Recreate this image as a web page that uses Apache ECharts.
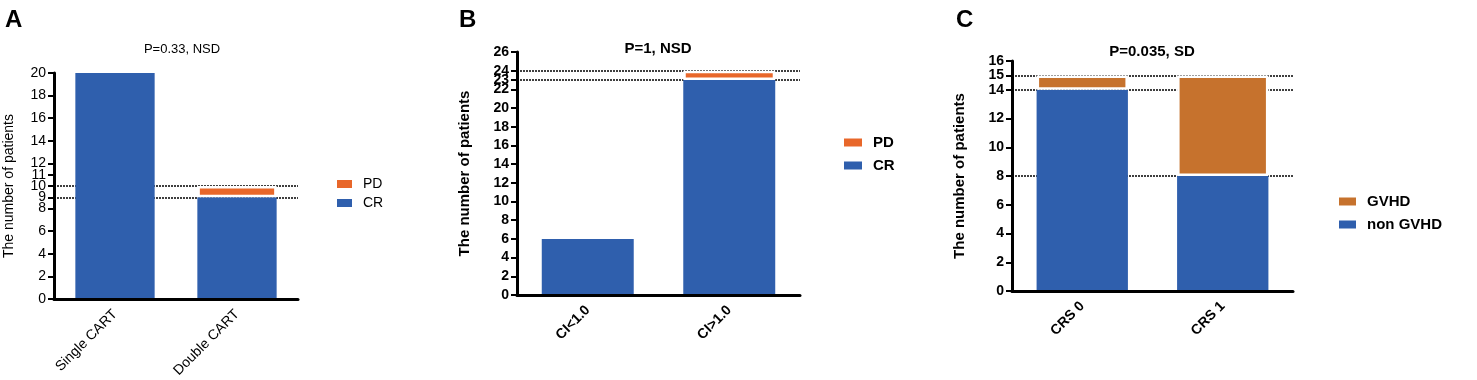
<!DOCTYPE html>
<html>
<head>
<meta charset="utf-8">
<script src="https://cdn.jsdelivr.net/npm/echarts@6/dist/echarts.min.js"></script>
<style>
  html, body { margin: 0; padding: 0; background: #fff; }
  #chart { width: 1477px; height: 380px; }
</style>
</head>
<body>
<div id="chart"></div>
<script>
// 数据
const catsA = ['Single CART', 'Double CART'];
const crA = [20, 9];
const pdA = [null, 1];
const ticksA = [0, 2, 4, 6, 8, 9, 10, 11, 12, 14, 16, 18, 20];
const refA = [9, 10];

const catsB = ['CI<1.0', 'CI>1.0'];
const crB = [6, 23];
const pdB = [null, 1];
const ticksB = [0, 2, 4, 6, 8, 10, 12, 14, 16, 18, 20, 22, 23, 24, 26];
const refB = [23, 24];

const catsC = ['CRS 0', 'CRS 1'];
const nonGvhdC = [14, 8];
const gvhdC = [1, 7];
const ticksC = [0, 2, 4, 6, 8, 10, 12, 14, 15, 16];
const refC = [8, 14, 15];

const FONT = 'Liberation Sans, Arial, sans-serif';
const BLUE = '#2f5fad';
const ORANGE = '#e8672a';
const BROWN = '#c6722d';

const chart = echarts.init(document.getElementById('chart'));

// 生成坐标轴
function xAxisFor(idx, cats, bold, size) {
    return {
        type: 'category', gridIndex: idx, data: cats, z: 10,
        axisLine: { lineStyle: { color: '#000', width: 3 } },
        axisTick: { alignWithLabel: true, length: 6, lineStyle: { color: '#000', width: 3 } },
        axisLabel: {
            rotate: 45, margin: 13, color: '#000', fontFamily: FONT,
            fontSize: size, fontWeight: bold ? 'bold' : 'normal'
        }
    };
}
function yAxisFor(idx, max, ticks, bold, gap, nameSize) {
    return {
        type: 'value', gridIndex: idx, min: 0, max: max, z: 10,
        name: 'The number of patients', nameLocation: 'middle', nameGap: gap,
        nameTextStyle: { color: '#000', fontFamily: FONT, fontSize: nameSize, fontWeight: bold ? 'bold' : 'normal' },
        splitLine: { show: false },
        axisLine: { show: true, lineStyle: { color: '#000', width: 3 } },
        axisTick: { show: true, customValues: ticks, length: 6, lineStyle: { color: '#000', width: 2 } },
        axisLabel: {
            customValues: ticks, margin: 8, color: '#000', fontFamily: FONT,
            fontSize: 14, fontWeight: bold ? 'bold' : 'normal'
        }
    };
}
// 下层柱不加边框，上层柱加白边形成间隔
function barSeries(name, idx, data, color, stack, border) {
    return {
        name: name, type: 'bar', stack: stack, xAxisIndex: idx, yAxisIndex: idx,
        data: data, barWidth: border ? '67%' : '65%', z: border ? 4 : 3,
        itemStyle: { color: color, borderColor: '#fff', borderWidth: border ? 2.5 : 0 }
    };
}
// 虚线参考线
function refSeries(idx, refs) {
    return {
        type: 'line', xAxisIndex: idx, yAxisIndex: idx, data: [], z: 1, silent: true,
        markLine: {
            silent: true, symbol: 'none', z: 1, animation: false,
            label: { show: false },
            lineStyle: { color: '#000', type: [2, 1], width: 1.5 },
            data: refs.map(v => ({ yAxis: v }))
        }
    };
}
function legendFor(left, top, names, bold, size, gap, w) {
    return {
        orient: 'vertical', left: left, top: top, data: names, padding: 0,
        icon: 'rect', itemWidth: w, itemHeight: 8, itemGap: gap,
        itemStyle: { borderWidth: 0 },
        textStyle: { color: '#000', fontFamily: FONT, fontSize: size, fontWeight: bold ? 'bold' : 'normal', padding: [0, 0, 0, 6] }
    };
}

const option = {
    animation: false,
    textStyle: { fontFamily: FONT },
    grid: [
        { left: 54, top: 73, width: 244, height: 227 },
        { left: 517, top: 52, width: 283, height: 243 },
        { left: 1012, top: 61, width: 281, height: 230 }
    ],
    xAxis: [xAxisFor(0, catsA, false, 14), xAxisFor(1, catsB, true, 14), xAxisFor(2, catsC, true, 14)],
    yAxis: [
        yAxisFor(0, 20, ticksA, false, 38, 14),
        yAxisFor(1, 26, ticksB, true, 45, 15),
        yAxisFor(2, 16, ticksC, true, 45, 15)
    ],
    legend: [
        legendFor(337, 177, ['PD', 'CR'], false, 14, 5, 15),
        legendFor(844, 135, ['PD', 'CR'], true, 15, 8, 18),
        legendFor(1339, 194, ['GVHD', 'non GVHD'], true, 15, 8, 17)
    ],
    title: [
        { text: 'P=0.33, NSD', left: 177, top: 38, textAlign: 'center',
          textStyle: { fontSize: 13, fontWeight: 'normal', color: '#000', fontFamily: FONT } },
        { text: 'P=1, NSD', left: 653, top: 36, textAlign: 'center',
          textStyle: { fontSize: 15, fontWeight: 'bold', color: '#000', fontFamily: FONT } },
        { text: 'P=0.035, SD', left: 1147, top: 39, textAlign: 'center',
          textStyle: { fontSize: 15, fontWeight: 'bold', color: '#000', fontFamily: FONT } },
        { text: 'A', left: 0, top: 3, textStyle: { fontSize: 24, fontWeight: 'bold', color: '#000', fontFamily: FONT } },
        { text: 'B', left: 454, top: 3, textStyle: { fontSize: 24, fontWeight: 'bold', color: '#000', fontFamily: FONT } },
        { text: 'C', left: 951, top: 3, textStyle: { fontSize: 24, fontWeight: 'bold', color: '#000', fontFamily: FONT } }
    ],
    series: [
        refSeries(0, refA),
        barSeries('CR', 0, crA, BLUE, 'a', false),
        barSeries('PD', 0, pdA, ORANGE, 'a', true),
        refSeries(1, refB),
        barSeries('CR', 1, crB, BLUE, 'b', false),
        barSeries('PD', 1, pdB, ORANGE, 'b', true),
        refSeries(2, refC),
        barSeries('non GVHD', 2, nonGvhdC, BLUE, 'c', false),
        barSeries('GVHD', 2, gvhdC, BROWN, 'c', true)
    ]
};

chart.setOption(option);
</script>
</body>
</html>
